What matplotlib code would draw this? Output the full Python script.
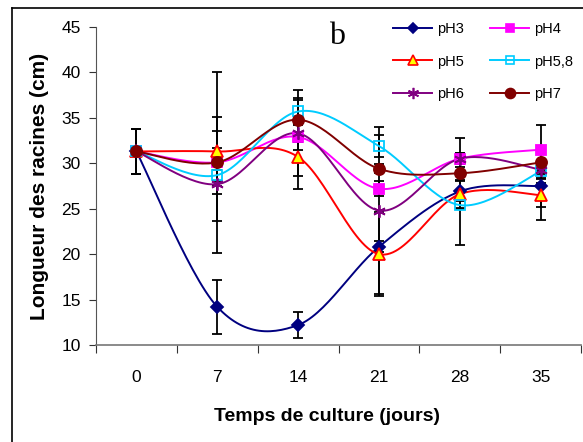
import numpy as np
import matplotlib
matplotlib.use('Agg')
import matplotlib.pyplot as plt
from matplotlib.lines import Line2D

plt.rcParams['font.family'] = ['Liberation Sans', 'DejaVu Sans']

jours = ['0', '7', '14', '21', '28', '35']
series = ['pH3', 'pH4', 'pH5', 'pH5,8', 'pH6', 'pH7']

ph3 = [31.3, 14.2, 12.2, 20.8, 26.9, 27.5]
ph4 = [31.3, 30.1, 32.9, 27.2, 30.5, 31.5]
ph5 = [31.3, 31.3, 30.7, 20.0, 26.6, 26.5]
ph58 = [31.3, 28.7, 35.7, 31.9, 25.4, 29.1]
ph6 = [31.3, 27.7, 33.3, 24.8, 30.5, 29.3]
ph7 = [31.3, 30.1, 34.8, 29.4, 28.9, 30.1]

err3 = [2.5, 3.0, 1.4, 0.6, 5.9, 3.7]
err4 = [2.5, 3.5, 4.3, 0.8, 0.6, 2.7]
err5 = [2.5, 3.8, 3.5, 4.6, 1.5, 1.3]
err58 = [2.5, 0.6, 1.3, 1.2, 0.4, 0.8]
err6 = [2.5, 4.0, 1.0, 9.2, 0.6, 0.9]
err7 = [2.5, 10.0, 3.3, 0.5, 0.7, 1.0]

values = [ph3, ph4, ph5, ph58, ph6, ph7]
errors = [err3, err4, err5, err58, err6, err7]

styles = {
    'pH3': dict(color='#000080', marker='D', mfc='#000080', mec='#000080', ms=6),
    'pH4': dict(color='#FF00FF', marker='s', mfc='#FF00FF', mec='#FF00FF', ms=7),
    'pH5': dict(color='#FF0000', marker='^', mfc='#FFFF00', mec='#FF0000', ms=8),
    'pH5,8': dict(color='#00CCFF', marker='s', mfc='none', mec='#00CCFF', ms=7),
    'pH6': dict(color='#800080', marker=(6, 2, 0), mfc='#800080', mec='#800080', ms=9),
    'pH7': dict(color='#800000', marker='o', mfc='#800000', mec='#800000', ms=8),
}


def smooth(x, y, n=30):
    # courbe lissée type Excel (Bezier, tension 1/6)
    x = np.asarray(x, float)
    y = np.asarray(y, float)
    pts = np.column_stack([x, y])
    out = []
    for i in range(len(pts) - 1):
        p0 = pts[max(i - 1, 0)]
        p1 = pts[i]
        p2 = pts[i + 1]
        p3 = pts[min(i + 2, len(pts) - 1)]
        c1 = p1 + (p2 - p0) / 6.0
        c2 = p2 - (p3 - p1) / 6.0
        t = np.linspace(0, 1, n)[:, None]
        seg = ((1 - t) ** 3) * p1 + 3 * ((1 - t) ** 2) * t * c1 + 3 * (1 - t) * t ** 2 * c2 + t ** 3 * p2
        out.append(seg if i == 0 else seg[1:])
    out = np.vstack(out)
    return out[:, 0], out[:, 1]


fig = plt.figure(figsize=(5.83, 4.42), dpi=100)
ax = fig.add_axes([96 / 583, (442 - 345) / 442, (581 - 96) / 583, (345 - 27) / 442])

xpos = np.arange(len(jours))

for name, y, e in zip(series, values, errors):
    ax.errorbar(xpos, y, yerr=e, fmt='none', ecolor='black', elinewidth=1.3,
                capsize=3.5, capthick=1.3, zorder=2)

for name, y in zip(series, values):
    st = styles[name]
    xs, ys = smooth(xpos, y)
    ax.plot(xs, ys, color=st['color'], lw=1.4, zorder=3)
    ax.plot(xpos, y, ls='none', marker=st['marker'], mfc=st['mfc'], mec=st['mec'],
            ms=st['ms'], mew=1.3, zorder=4)

ax.set_xlim(-0.5, 5.5)
ax.set_ylim(10, 45)
ax.set_yticks(np.arange(10, 46, 5))
ax.set_xticks(xpos)
ax.set_xticklabels(jours)
ax.set_xticks(np.arange(-0.5, 5.6, 1), minor=True)
ax.tick_params(axis='x', which='major', length=0, pad=18, labelsize=12.5)
ax.tick_params(axis='x', which='minor', length=6, width=0.8, color='#333333')
ax.tick_params(axis='y', length=5, width=0.8, labelsize=12.5, pad=6, color='#333333')

ax.spines['top'].set_visible(False)
ax.spines['right'].set_visible(False)
ax.spines['left'].set_color('#555555')
ax.spines['bottom'].set_color('#777777')
ax.spines['bottom'].set_linewidth(1.2)

ax.set_xlabel('Temps de culture (jours)', fontsize=14, fontweight='bold')
ax.set_ylabel('Longueur des racines (cm)', fontsize=15, fontweight='bold')
ax.xaxis.set_label_coords((327 - 96) / 485, (345 - 408) / 318)
ax.yaxis.set_label_coords((49 - 96) / 485, 0.5)

fig.text(337 / 583, 1 - 37 / 442, 'b', fontsize=23,
         family=['Liberation Serif', 'DejaVu Serif'], ha='center', va='center')

order = ['pH3', 'pH5', 'pH6', 'pH4', 'pH5,8', 'pH7']
handles = []
for name in order:
    st = styles[name]
    handles.append(Line2D([], [], color=st['color'], lw=1.4, marker=st['marker'],
                          mfc=st['mfc'], mec=st['mec'], ms=st['ms'] * 0.9, mew=1.2))
leg = fig.legend(handles, order, ncol=2, loc='upper left',
                 bbox_to_anchor=(393 / 583, 1 - 22 / 442),
                 frameon=False, fontsize=10.5, handlelength=2.7, handletextpad=0.35,
                 columnspacing=1.75, labelspacing=1.27, borderpad=0, borderaxespad=0)

# cadre du graphique (bords gauche et haut visibles)
fig.add_artist(Line2D([12 / 583, 12 / 583], [0, 1 - 8 / 442], color='black', lw=1.2,
                      transform=fig.transFigure))
fig.add_artist(Line2D([12 / 583, 1], [1 - 8 / 442, 1 - 8 / 442], color='black', lw=1.2,
                      transform=fig.transFigure))

fig.savefig('out.png', dpi=100)
